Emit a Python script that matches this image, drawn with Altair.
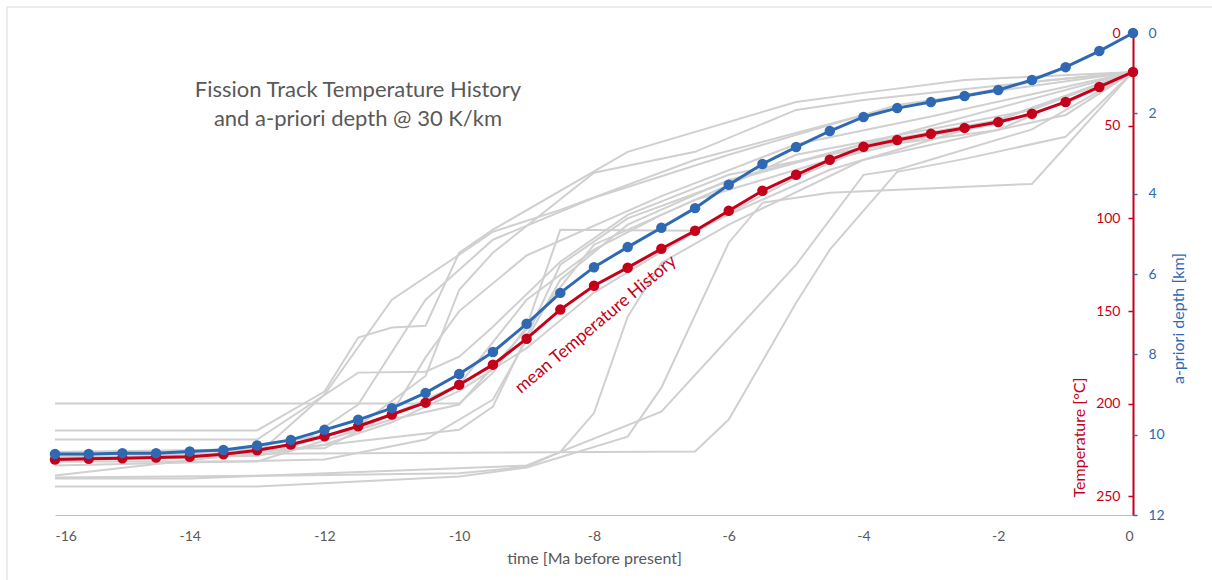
import altair as alt
import pandas as pd

# ---------------- data ----------------
time = [-16, -15.5, -15, -14.5, -14, -13.5, -13, -12.5, -12, -11.5, -11, -10.5,
        -10, -9.5, -9, -8.5, -8, -7.5, -7, -6.5, -6, -5.5, -5, -4.5, -4, -3.5,
        -3, -2.5, -2, -1.5, -1, -0.5, 0]
mean_temp = [230.1, 229.7, 229.4, 229.0, 228.6, 227.2, 225.1, 222.0, 217.5, 212.1,
             205.8, 199.4, 189.7, 178.9, 164.9, 149.2, 136.3, 126.6, 116.4, 106.7,
             95.9, 85.1, 76.5, 68.4, 61.4, 57.7, 54.4, 51.2, 48.0, 43.6, 37.2, 29.1, 21.0]
mean_depth = [10.48, 10.48, 10.46, 10.46, 10.42, 10.38, 10.27, 10.13, 9.88, 9.63,
              9.34, 8.96, 8.49, 7.94, 7.24, 6.47, 5.83, 5.33, 4.85, 4.36, 3.78, 3.26,
              2.84, 2.44, 2.09, 1.87, 1.72, 1.57, 1.42, 1.17, 0.85, 0.45, 0.0]

# individual temperature histories (time [Ma], temperature [°C])
run_01 = [(-16, 214.4), (-13, 214.4), (-12, 193.4), (-11.5, 164.3), (-11, 158.9), (-10.5, 157.9),
          (-10, 118.5), (-9.5, 106.1), (-7.5, 64.1), (-5, 37.2), (-4, 32.3), (-2.5, 25.3), (0, 21.0)]
run_02 = [(-16, 199.9), (-10, 199.9), (-9.5, 183.2), (-9, 158.4), (-8.5, 106.1), (-6.5, 106.7),
          (-6, 97.9), (-4.5, 73.8), (-2, 46.9), (0, 21.0)]
run_03 = [(-16, 219.3), (-13, 219.3), (-11.5, 183.2), (-10.5, 182.7), (-10, 174.6), (-9.5, 158.4),
          (-8.5, 123.4), (-7.5, 98.1), (-6, 76.5), (-4, 62.0), (-2, 52.3), (0, 21.0)]
run_04 = [(-16, 229.0), (-13, 227.4), (-12, 195.0), (-11, 143.9), (-10, 119.6), (-9.5, 107.2),
          (-8.5, 95.4), (-6.5, 68.4), (-4, 44.2), (-1.5, 26.4), (0, 21.0)]
run_05 = [(-16, 227.4), (-12.5, 224.7), (-11.5, 200.4), (-10.5, 143.9), (-9.5, 111.5), (-8, 88.9),
          (-6, 65.7), (-3.5, 38.8), (0, 21.0)]
run_06 = [(-16, 228.5), (-12.5, 223.0), (-11.5, 212.0), (-10.5, 185.0), (-10, 138.5), (-9.5, 118.5),
          (-8, 75.4), (-6.5, 64.1), (-5, 41.5), (-4, 36.1), (-1.5, 26.4), (0, 21.0)]
run_07 = [(-16, 231.1), (-13, 231.1), (-11, 208.5), (-10, 200.4), (-9, 160.0), (-8, 114.2),
          (-6.5, 90.0), (-4.5, 68.4), (-2, 46.9), (0, 21.0)]
run_08 = [(-16, 233.3), (-12, 230.1), (-10.5, 219.3), (-9.5, 197.7), (-8.5, 133.1), (-7.5, 103.4),
          (-6, 79.2), (-3.5, 55.0), (0, 21.0)]
run_09 = [(-16, 229.5), (-14, 229.0), (-11.5, 213.9), (-10, 189.7), (-9, 143.9), (-8, 116.9),
          (-7, 98.1), (-5, 65.7), (-1.5, 41.5), (0, 21.0)]
run_10 = [(-16, 227.4), (-6.5, 225.8), (-6, 208.5), (-5, 145.5), (-4.5, 116.9), (-3.5, 74.9),
          (-2.5, 67.9), (-1, 56.0), (0, 21.0)]
run_11 = [(-16, 244.6), (-13, 244.6), (-10, 239.2), (-9, 234.4), (-7.5, 217.7), (-7, 191.3),
          (-6, 113.1), (-5.5, 91.6), (-4.5, 86.2), (-1.5, 81.4), (0, 21.0)]
run_12 = [(-16, 240.3), (-14, 240.3), (-9, 233.3), (-7, 204.2), (-5, 125.0), (-4, 76.5),
          (-3.5, 73.8), (-1.5, 52.0), (0, 21.0)]
run_13 = [(-16, 239.8), (-12.5, 238.7), (-10, 237.5), (-9, 234.0), (-8.5, 226.0), (-8, 205.0),
          (-7.5, 153.0), (-7, 124.0), (-6, 103.4), (-4, 68.4), (-1, 44.2), (0, 21.0)]
run_14 = [(-16, 238.7), (-10, 214.0), (-9.5, 201.5), (-9, 163.8), (-8.5, 125.0), (-7.5, 100.0),
          (-6, 80.0), (-4, 60.0), (-2, 47.0), (0, 21.0)]
run_15 = [(-16, 230.5), (-13, 228.0), (-12, 222.0), (-11, 210.0), (-10, 193.0), (-9, 170.0),
          (-8, 140.0), (-7, 118.0), (-6, 97.0), (-5, 78.0), (-4, 62.5), (-3, 55.5), (-2, 49.0),
          (-1, 38.0), (0, 21.0)]
run_16 = [(-16, 226.0), (-12, 224.0), (-11, 205.0), (-10.5, 175.0), (-10, 150.0), (-9, 120.0),
          (-7, 88.0), (-5, 60.0), (-3, 45.0), (-1.5, 33.0), (0, 21.0)]

runs = [run_01, run_02, run_03, run_04, run_05, run_06, run_07, run_08,
        run_09, run_10, run_11, run_12, run_13, run_14, run_15, run_16]

title_lines = ["Fission Track Temperature History", "and a-priori depth @ 30 K/km"]
label_text = "mean Temperature History"
label_pos = (-7.97, 157.3)
temp_ticks = [0, 50, 100, 150, 200, 250]
depth_ticks = [0, 2, 4, 6, 8, 10, 12]
time_ticks = [-16, -14, -12, -10, -8, -6, -4, -2, 0]

# ---------------- build tables ----------------
gray_rows = []
for i, r in enumerate(runs):
    for t, T in r:
        gray_rows.append({"run": i, "t": t, "T": T})
gray_df = pd.DataFrame(gray_rows)
mean_df = pd.DataFrame({"t": time, "T": mean_temp, "depth": mean_depth})
label_df = pd.DataFrame({"t": [label_pos[0]], "T": [label_pos[1]], "label": [label_text]})
frame_df = pd.DataFrame({"a": [0]})

RED = "#c5001a"
BLUE = "#2f69b3"
GRAY_TXT = "#595959"
W, H = 1078, 482

x_enc = alt.X("t:Q",
              scale=alt.Scale(domain=[-16, 0], nice=False, zero=False),
              axis=alt.Axis(values=time_ticks, labelExpr="'' + datum.value", ticks=False,
                            tickSize=0, grid=False, domainColor="#bfbfbf", domainWidth=1,
                            labelColor=GRAY_TXT, labelFontSize=14, labelPadding=14,
                            title="time [Ma before present]", titleColor=GRAY_TXT,
                            titleFontSize=16, titleFontWeight="normal", titlePadding=7))

y_temp = alt.Y("T:Q",
               scale=alt.Scale(domain=[0, 260], reverse=True, nice=False, zero=False),
               axis=alt.Axis(orient="left", offset=-W, values=temp_ticks, grid=False,
                             domainColor=RED, domainWidth=2, tickColor=RED, tickSize=5,
                             tickWidth=1.5, labelColor=RED, labelFontSize=14, labelPadding=8,
                             title="Temperature [°C]", titleColor=RED, titleFontSize=16,
                             titleFontWeight="normal", titleAngle=270, titleX=-49, titleY=404,
                             titleAlign="center", titleBaseline="alphabetic"))

y_depth = alt.Y("depth:Q",
                scale=alt.Scale(domain=[0, 12], reverse=True, nice=False, zero=False),
                axis=alt.Axis(orient="right", values=depth_ticks, grid=False, domain=False,
                              tickColor=BLUE, tickSize=4, tickWidth=1.5, labelColor=BLUE,
                              labelFontSize=14, labelPadding=11,
                              title="a-priori depth [km]", titleColor=BLUE, titleFontSize=16,
                              titleFontWeight="normal", titleAngle=270, titleX=50, titleY=285,
                              titleAlign="center", titleBaseline="alphabetic"))

frame = alt.Chart(frame_df).mark_rect(fillOpacity=0, stroke="#d9d9d9", strokeWidth=1).encode(
    x=alt.value(-48), x2=alt.value(1200), y=alt.value(-26), y2=alt.value(600))

gray = alt.Chart(gray_df).mark_line(color="#d0d0d0", strokeWidth=2).encode(
    x=x_enc, y=y_temp, detail="run:N")

red_line = alt.Chart(mean_df).mark_line(color=RED, strokeWidth=3).encode(x=x_enc, y=y_temp)
red_pts = alt.Chart(mean_df).mark_point(color=RED, filled=True, size=110, opacity=1).encode(
    x=x_enc, y=y_temp)
label = alt.Chart(label_df).mark_text(angle=320, color=RED, fontSize=17.5, align="center",
                                      baseline="middle").encode(x=x_enc, y=y_temp, text="label:N")

temp_layer = alt.layer(frame, gray, red_line, red_pts, label)

blue_line = alt.Chart(mean_df).mark_line(color=BLUE, strokeWidth=3).encode(x=x_enc, y=y_depth)
blue_pts = alt.Chart(mean_df).mark_point(color=BLUE, filled=True, size=110, opacity=1).encode(
    x=x_enc, y=y_depth)
depth_layer = alt.layer(blue_line, blue_pts)

chart = alt.layer(temp_layer, depth_layer).resolve_scale(y="independent").properties(
    width=W, height=H,
    autosize=alt.AutoSizeParams(type="none"),
    padding={"left": 55, "top": 33, "right": 79, "bottom": 65},
    title=alt.TitleParams(text=title_lines, anchor="start", align="center", dx=303,
                          offset=-124, fontSize=22, color=GRAY_TXT, fontWeight="normal",
                          lineHeight=29, frame="group"),
    background="white",
).configure(font="Lato").configure_view(stroke=None)

chart.save("out.html", embed_options={"renderer": "svg", "actions": False})
